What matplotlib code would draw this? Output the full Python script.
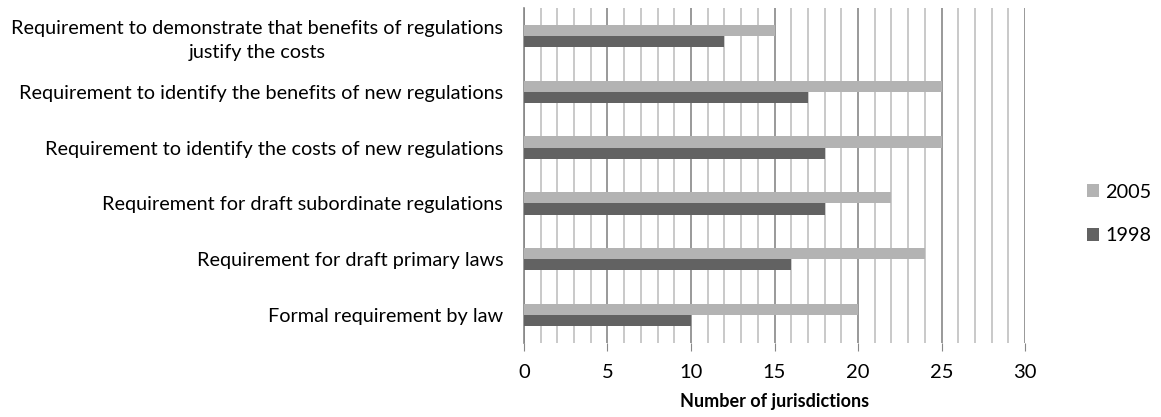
import numpy as np
import matplotlib.pyplot as plt
from matplotlib.ticker import MultipleLocator

# Survey counts per requirement (listed bottom to top)
categories = [
    'Formal requirement by law',
    'Requirement for draft primary laws',
    'Requirement for draft subordinate regulations',
    'Requirement to identify the costs of new regulations',
    'Requirement to identify the benefits of new regulations',
    'Requirement to demonstrate that benefits of regulations\njustify the costs',
]
values_2005 = [20, 24, 22, 25, 25, 15]
values_1998 = [10, 16, 18, 18, 17, 12]

plt.rcParams['font.family'] = ['Lato', 'DejaVu Sans']

fig = plt.figure(figsize=(11.61, 4.17), dpi=100)
ax = fig.add_axes([0.4513, 0.1775, 0.4316, 0.8035])

y = np.arange(len(categories))
h = 0.2
ax.barh(y + h / 2, values_2005, height=h, color='#b3b3b3', label='2005', zorder=3)
ax.barh(y - h / 2, values_1998, height=h, color='#626262', label='1998', zorder=3)

ax.set_xlim(0, 30)
ax.set_ylim(-0.5, len(categories) - 0.5)
ax.xaxis.set_major_locator(MultipleLocator(5))
ax.xaxis.set_minor_locator(MultipleLocator(1))
ax.grid(axis='x', which='minor', color='#c0c0c0', linewidth=1.2, zorder=0)
ax.grid(axis='x', which='major', color='#878787', linewidth=1.2, zorder=1)

ax.set_yticks(y)
ax.set_yticklabels(categories, fontsize=14.3, multialignment='center', linespacing=1.45)
ax.tick_params(axis='y', length=0, pad=15)
ax.tick_params(axis='x', which='major', length=6, color='#878787', labelsize=14.5, pad=9)
ax.tick_params(axis='x', which='minor', length=0)

for side in ['top', 'right', 'bottom']:
    ax.spines[side].set_visible(False)
ax.spines['left'].set_color('#878787')
ax.spines['left'].set_linewidth(1.2)

ax.set_xlabel('Number of jurisdictions', fontsize=13, fontweight='bold', labelpad=9)

ax.legend(loc='center left', bbox_to_anchor=(1.088, 0.385), frameon=False, fontsize=14.3,
          handlelength=0.6, handleheight=0.6, handletextpad=0.3, labelspacing=1.35)

fig.savefig('out.png', dpi=100)
